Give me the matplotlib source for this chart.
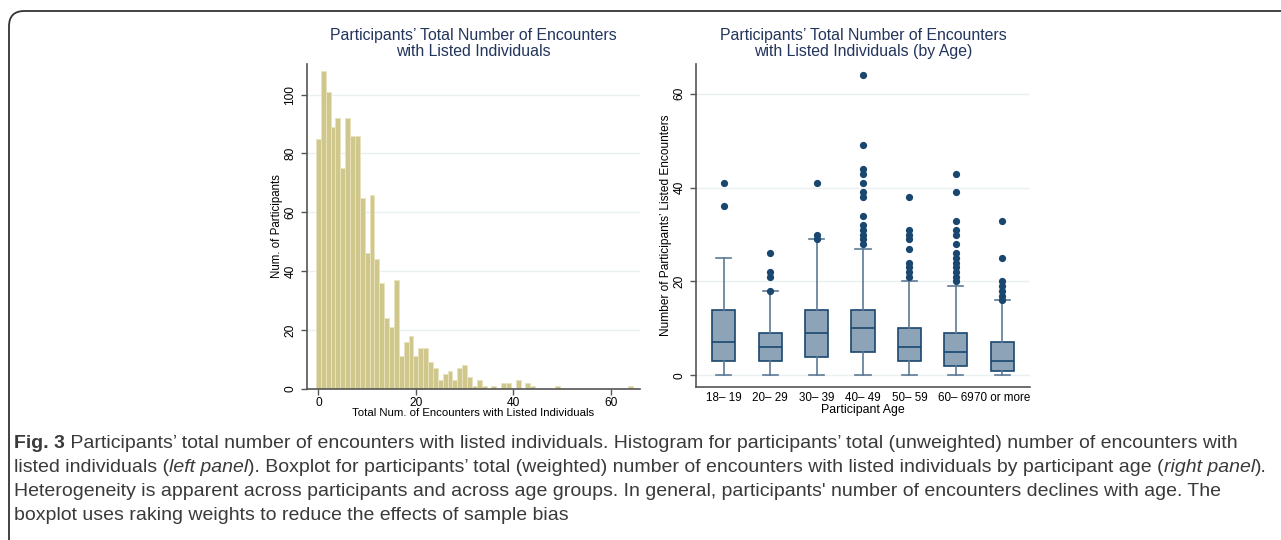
import numpy as np
import matplotlib
matplotlib.use("Agg")
import matplotlib.pyplot as plt
from matplotlib.patches import FancyBboxPatch

# ---------------- data ----------------
encounters = list(range(0, 65))
hist_counts = [85, 108, 101, 89, 92, 75, 92, 86, 86, 65,
               46, 66, 44, 36, 24, 21, 37, 11, 16, 18,
               11, 14, 14, 9, 7, 3, 5, 6, 3, 7,
               8, 4, 1, 3, 1, 0, 1, 0, 2, 2,
               0, 3, 0, 2, 1, 0, 0, 0, 0, 1,
               0, 0, 0, 0, 0, 0, 0, 0, 0, 0,
               0, 0, 0, 0, 1]

age_groups = ["18\u2013 19", "20\u2013 29", "30\u2013 39", "40\u2013 49",
              "50\u2013 59", "60\u2013 69", "70 or more"]
q1 = [3, 3, 4, 5, 3, 2, 1]
medians = [7, 6, 9, 10, 6, 5, 3]
q3 = [14, 9, 14, 14, 10, 9, 7]
whisker_lo = [0, 0, 0, 0, 0, 0, 0]
whisker_hi = [25, 18, 29, 27, 20, 19, 16]
outliers = [
    [36, 41],
    [18, 21, 22, 26],
    [29, 30, 41],
    [28, 29, 30, 31, 32, 34, 38, 39, 41, 43, 44, 49, 64],
    [21, 22, 23, 24, 27, 29, 30, 31, 38],
    [20, 21, 22, 23, 24, 25, 26, 28, 30, 31, 33, 39, 43],
    [16, 17, 18, 19, 20, 25, 33],
]

left_title = "Participants\u2019 Total Number of Encounters\nwith Listed Individuals"
right_title = "Participants\u2019 Total Number of Encounters\nwith Listed Individuals (by Age)"

# ---------------- style ----------------
W, H = 1281, 540
fig = plt.figure(figsize=(W / 100, H / 100), dpi=100)
plt.rcParams['font.family'] = ['Liberation Sans', 'DejaVu Sans']

title_col = '#23355C'
axis_col = '#555555'
grid_col = '#E8F0F1'
navy = '#1A476F'
box_fill = '#8CA3B8'
whisk_col = '#5D7A96'
bar_col = '#CFC78B'
bar_edge = '#E9E4BE'


def px_axes(l, r, t, b):
    return fig.add_axes([l / W, 1 - b / H, (r - l) / W, (b - t) / H])


def style_axes(ax):
    for s in ['top', 'right']:
        ax.spines[s].set_visible(False)
    for s in ['left', 'bottom']:
        ax.spines[s].set_color(axis_col)
        ax.spines[s].set_linewidth(1.2)
    ax.tick_params(axis='both', colors=axis_col, labelcolor='black',
                   labelsize=8.6, length=4, width=1)
    ax.yaxis.grid(True, color=grid_col, linewidth=1.0)
    ax.set_axisbelow(True)
    for lab in ax.get_yticklabels():
        lab.set_rotation(90)
        lab.set_va('center')


# ---------------- left: histogram ----------------
ax1 = px_axes(306.7, 640, 64.3, 388.7)
ax1.bar(encounters, hist_counts, width=1.0, color=bar_col,
        edgecolor=bar_edge, linewidth=0.6)
ax1.set_xlim(-2.4, 66)
ax1.set_ylim(0, 110.3)
ax1.set_xticks([0, 20, 40, 60])
ax1.set_yticks([0, 20, 40, 60, 80, 100])
style_axes(ax1)
ax1.tick_params(axis='x', pad=2)
ax1.set_xlabel("Total Num. of Encounters with Listed Individuals",
               fontsize=8.2, labelpad=-1)
ax1.set_ylabel("Num. of Participants", fontsize=8.3, labelpad=1)
ax1.set_title(left_title, fontsize=11.4, color=title_col, pad=6,
              linespacing=1.1)

# ---------------- right: boxplot ----------------
ax2 = px_axes(696, 1030, 64.3, 386.7)
stats = []
for i in range(len(age_groups)):
    stats.append(dict(med=medians[i], q1=q1[i], q3=q3[i],
                      whislo=whisker_lo[i], whishi=whisker_hi[i],
                      fliers=outliers[i], label=age_groups[i]))
positions = list(range(len(age_groups)))
ax2.bxp(stats, positions=positions, widths=0.5, patch_artist=True,
        boxprops=dict(facecolor=box_fill, edgecolor=navy, linewidth=1.2),
        medianprops=dict(color=navy, linewidth=1.2),
        whiskerprops=dict(color=whisk_col, linewidth=1.2),
        capprops=dict(color=whisk_col, linewidth=1.2),
        capwidths=0.33,
        flierprops=dict(marker='o', markerfacecolor=navy,
                        markeredgecolor=navy, markersize=4.2))
ax2.set_xlim(-0.6, 6.6)
ax2.set_ylim(-2.43, 66.3)
ax2.set_yticks([0, 20, 40, 60])
ax2.set_xticks(positions)
ax2.set_xticklabels(age_groups)
style_axes(ax2)
ax2.tick_params(axis='x', length=0, labelsize=8.4, pad=4)
ax2.set_xlabel("Participant Age", fontsize=8.9, labelpad=0)
ax2.set_ylabel("Number of Participants\u2019 Listed Encounters",
               fontsize=8.6, labelpad=1)
ax2.set_title(right_title, fontsize=11.4, color=title_col, pad=6,
              linespacing=1.1)

# ---------------- frame ----------------
frame = FancyBboxPatch((9 / W, -20 / H), (W + 20 - 9) / W, (H - 11 + 20) / H,
                       boxstyle="round,pad=0,rounding_size=0.012",
                       transform=fig.transFigure, fill=False,
                       edgecolor='#333333', linewidth=1.3, clip_on=False,
                       mutation_aspect=W / H)
fig.patches.append(frame)

# ---------------- caption ----------------
cap_font = ['Liberation Sans', 'DejaVu Sans']
cap_col = '#3A3A3A'
cap_size = 14.0
renderer = fig.canvas.get_renderer()

caption_lines = [
    [("Fig. 3", 'bold', 'normal'),
     (" Participants\u2019 total number of encounters with listed individuals. Histogram for participants\u2019 total (unweighted) number of encounters with", 'normal', 'normal')],
    [("listed individuals (", 'normal', 'normal'), ("left panel", 'normal', 'italic'),
     ("). Boxplot for participants\u2019 total (weighted) number of encounters with listed individuals by participant age (", 'normal', 'normal'),
     ("right panel", 'normal', 'italic'), (").", 'normal', 'normal')],
    [("Heterogeneity is apparent across participants and across age groups. In general, participants' number of encounters declines with age. The", 'normal', 'normal')],
    [("boxplot uses raking weights to reduce the effects of sample bias", 'normal', 'normal')],
]
line_y = [443, 467.5, 492, 516]
for segs, yc in zip(caption_lines, line_y):
    x = 14 / W
    for txt, wt, st in segs:
        t = fig.text(x, 1 - yc / H, txt, fontsize=cap_size, family=cap_font,
                     weight=wt, style=st, color=cap_col, va='center', ha='left')
        bb = t.get_window_extent(renderer)
        x += bb.width / W

fig.savefig("out.png", dpi=100)
